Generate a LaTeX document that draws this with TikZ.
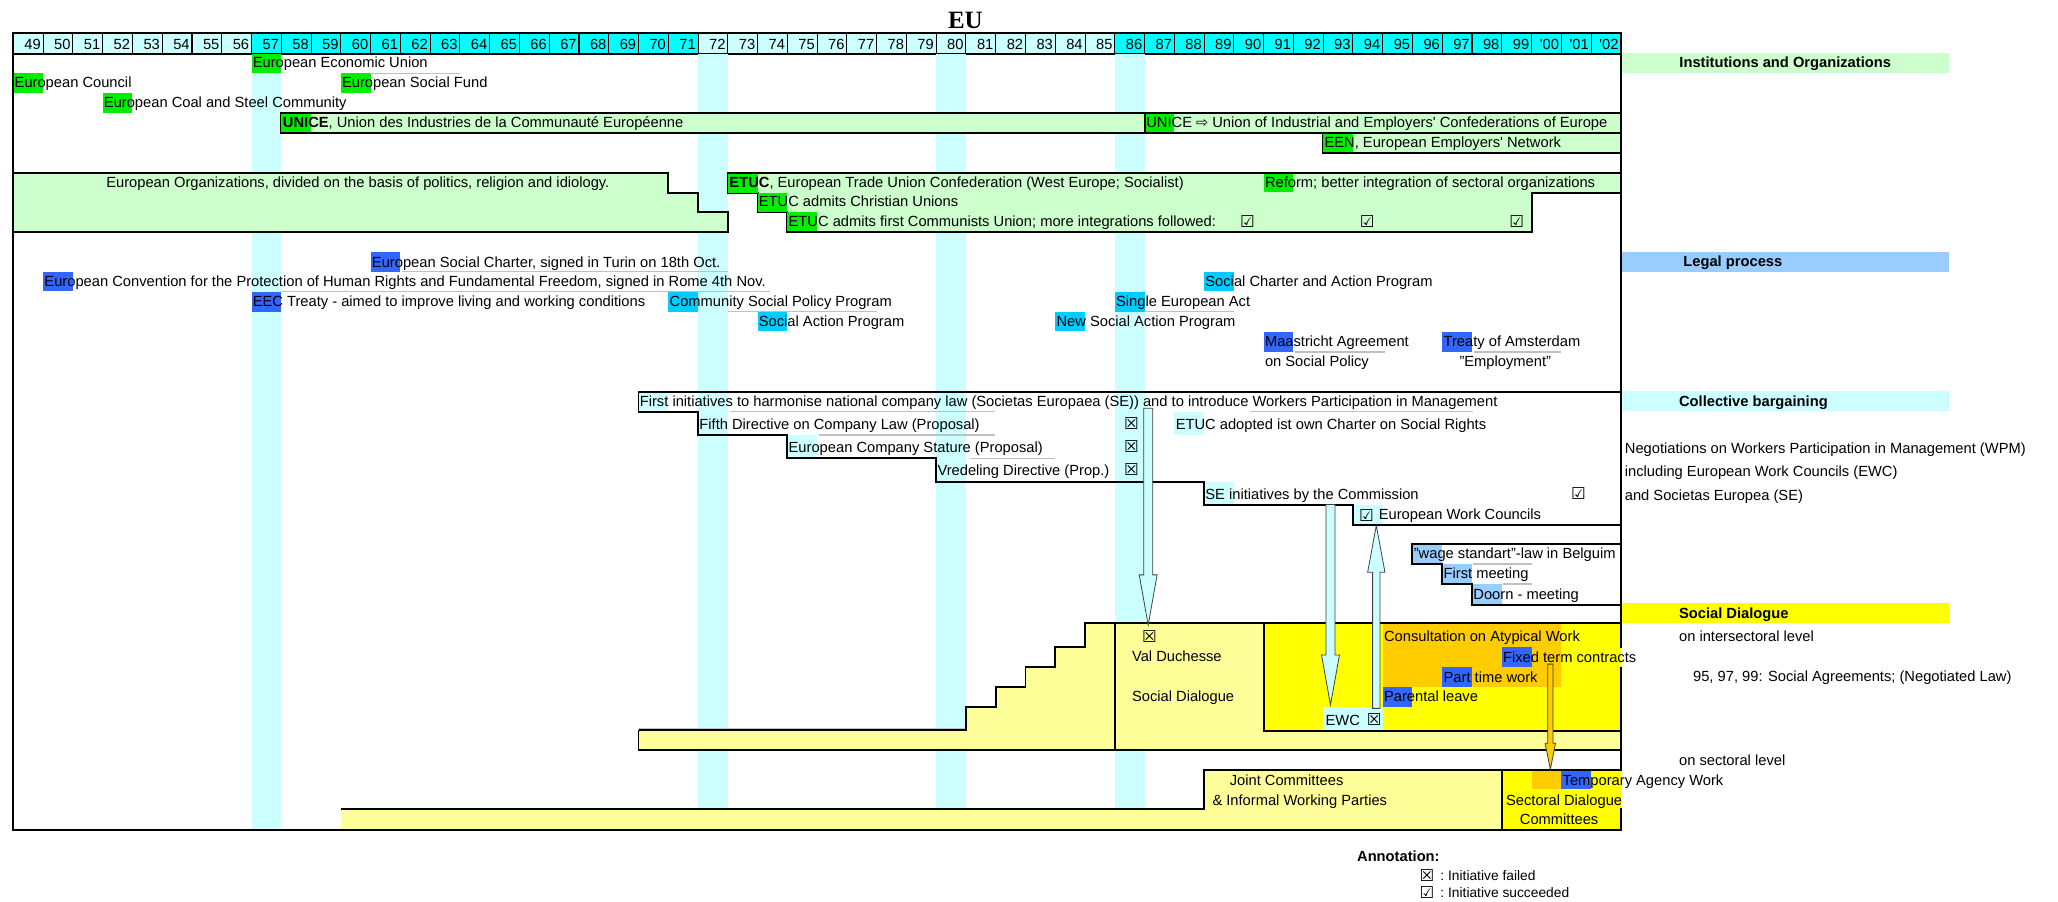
\documentclass[tikz,border=0pt]{standalone}
\usepackage{fontspec}
\setmainfont{Liberation Sans}
\newfontfamily\serifbf{Liberation Serif}
\newfontfamily\symf{DejaVu Sans}
\usetikzlibrary{calc}
\definecolor{lcyan}{HTML}{CCFFFF}
\definecolor{cyanh}{HTML}{00FFFF}
\definecolor{lgreen}{HTML}{CCFFCC}
\definecolor{hgreen}{HTML}{00EE00}
\definecolor{hblue}{HTML}{3366FF}
\definecolor{hsky}{HTML}{00CCFF}
\definecolor{lblue}{HTML}{99CCFF}
\definecolor{yel}{HTML}{FFFF00}
\definecolor{lyel}{HTML}{FFFF99}
\definecolor{orng}{HTML}{FFCC00}
\definecolor{lgray}{HTML}{C0C0C0}
\newcommand{\chfont}{\fontsize{11.2}{13.4}\selectfont}
\newcommand{\cbfail}{{\symf\fontsize{12.5}{12.5}\selectfont ☒}}
\newcommand{\cbok}{{\symf\fontsize{12.5}{12.5}\selectfont ☑}}
\newcommand{\HL}[4]{\fill[#4] (#1,#2) rectangle ({#1+22.68},#3);}
\newcommand{\darrow}[6]{\filldraw[fill=#6, draw=black!75, line width=0.6pt, line join=miter]
  ($(#1)+(-#3,0)$) -- ($(#2)+(-#3,-#5)$) -- ($(#2)+(-#4,-#5)$) -- (#2) -- ($(#2)+(#4,-#5)$) -- ($(#2)+(#3,-#5)$) -- ($(#1)+(#3,0)$) -- cycle;}
\newcommand{\uarrow}[6]{\filldraw[fill=#6, draw=black!75, line width=0.6pt, line join=miter]
  ($(#1)+(-#3,0)$) -- ($(#2)+(-#3,#5)$) -- ($(#2)+(-#4,#5)$) -- (#2) -- ($(#2)+(#4,#5)$) -- ($(#2)+(#3,#5)$) -- ($(#1)+(#3,0)$) -- cycle;}
\begin{document}
\begin{tikzpicture}[x=1pt,y=-1pt,
  txt/.style={anchor=base west, inner sep=0pt, outer sep=0pt, font=\chfont},
  ttl/.style={anchor=base west, inner sep=0pt, outer sep=0pt, font=\chfont\bfseries},
  yr/.style={anchor=base east, inner sep=0pt, outer sep=0pt, font=\chfont},
  box/.style={anchor=center, inner sep=0pt, outer sep=0pt},
  bline/.style={draw=black, line width=1.5pt, line join=miter},
  gline/.style={draw=lgray, line width=1pt}]
\useasboundingbox (0,0) rectangle (1568,686.5);
\fill[white] (0,0) rectangle (1568,686.5);

% title
\node[anchor=base, inner sep=0pt] (title) at (735.5,21.4) {\serifbf\bfseries\fontsize{19}{20}\selectfont EU};

% header cells
\foreach \i in {0,...,53} {
  \pgfmathsetmacro\xl{10.2+22.68*\i}
  \ifnum\i<8 \def\hc{lcyan}\else\ifnum\i<23 \def\hc{cyanh}\else\ifnum\i<37 \def\hc{lcyan}\else\def\hc{cyanh}\fi\fi\fi
  \filldraw[fill=\hc, draw=black, line width=0.8pt] (\xl,25.4) rectangle ++(22.68,15.7);
}
\foreach \lab [count=\i from 1] in {49,50,...,99}
  \node[yr] (y\lab) at ({10.2+22.68*\i-1.8},37.6) {\lab};
\node[yr] (y100) at ({10.2+22.68*52-1.8},37.6) {\textquotesingle00};
\node[yr] (y101) at ({10.2+22.68*53-1.8},37.6) {\textquotesingle01};
\node[yr] (y102) at ({10.2+22.68*54-1.8},37.6) {\textquotesingle02};
\draw[bline] (10.2,25.4) rectangle (1234.92,41.1);

% vertical bands
\foreach \bx in {191.64,531.84,713.28,849.36}
  \fill[lcyan] (\bx,41.1) rectangle ({\bx+22.68},632);

% right labels
\fill[lgreen] (1236,40.6) rectangle (1485,55.4);
\fill[lblue] (1236,192.2) rectangle (1485,207);
\fill[lcyan] (1236,298) rectangle (1485,313);
\fill[yel] (1236,459.7) rectangle (1485,475);

% ---------- Institutions fills
\filldraw[fill=lgreen, bline] (214.32,86.3) rectangle (1234.92,101.6);
\filldraw[fill=lgreen, bline] (1008.12,101.6) rectangle (1234.92,116.8);
\filldraw[fill=lgreen, bline] (10.2,132) -- (509.16,132) -- (509.16,146.8) -- (531.84,146.8) -- (531.84,161.3) -- (554.52,161.3) -- (554.52,176.8) -- (10.2,176.8) -- cycle;
\filldraw[fill=lgreen, bline] (554.52,132) -- (1234.92,132) -- (1234.92,146.8) -- (1166.88,146.8) -- (1166.88,176.8) -- (599.88,176.8) -- (599.88,161.3) -- (577.2,161.3) -- (577.2,146.8) -- (554.52,146.8) -- cycle;

% ---------- Social dialogue fills
\fill[lyel] (486.48,556.2) -- (735.96,556.2) -- (735.96,538.4) -- (758.64,538.4) -- (758.64,523.7) -- (781.32,523.7) -- (781.32,508.4) -- (804.0,508.4) -- (804.0,493.2) -- (826.68,493.2) -- (826.68,475) -- (1234.92,475) -- (1234.92,571.4) -- (486.48,571.4) -- cycle;
\fill[yel] (962.76,475) rectangle (1234.92,556.7);
\fill[orng] (1053.48,475) rectangle (1189.56,523.2);
\fill[lyel] (259.68,616.6) -- (917.4,616.6) -- (917.4,586.7) -- (1234.92,586.7) -- (1234.92,632) -- (259.68,632) -- cycle;
\fill[yel] (1144.2,586.7) rectangle (1234.92,632);

% ---------- highlights
\HL{191.64}{41.1}{55.4}{hgreen}
\HL{10.2}{55.4}{70.8}{hgreen}
\HL{259.68}{55.4}{70.8}{hgreen}
\HL{78.24}{70.8}{86.3}{hgreen}
\HL{214.32}{87}{100.9}{hgreen}
\HL{872.04}{87}{100.9}{hgreen}
\HL{1008.12}{102.3}{116.1}{hgreen}
\HL{554.52}{132.7}{146.8}{hgreen}
\HL{962.76}{132.7}{146.1}{hgreen}
\HL{577.2}{146.8}{161.3}{hgreen}
\HL{599.88}{161.3}{176.1}{hgreen}
\HL{282.36}{192.2}{207.5}{hblue}
\HL{32.88}{207.5}{222}{hblue}
\HL{191.64}{222.2}{237.5}{hblue}
\HL{509.16}{222.2}{237.5}{hsky}
\HL{577.2}{237.5}{252.5}{hsky}
\HL{917.4}{207.5}{222}{hsky}
\HL{849.36}{222.2}{237.5}{hsky}
\HL{804.0}{237.5}{252.5}{hsky}
\HL{962.76}{252.7}{268.3}{hblue}
\HL{1098.84}{252.7}{268.3}{hblue}
\HL{486.48}{298.4}{313.7}{lcyan}
\HL{531.84}{313.7}{331.4}{lcyan}
\HL{894.72}{313.7}{331.4}{lcyan}
\HL{599.88}{331.4}{349.2}{lcyan}
\HL{713.28}{349.2}{367}{lcyan}
\HL{917.4}{367}{384.8}{lcyan}
\HL{1030.8}{384.8}{400}{lcyan}
\HL{1076.16}{414.5}{429.7}{lblue}
\HL{1098.84}{429.7}{445}{lblue}
\HL{1121.52}{445}{461}{lblue}
\HL{1144.2}{493.2}{508.4}{hblue}
\HL{1098.84}{508.4}{523.7}{hblue}
\HL{1053.48}{523.7}{538.4}{hblue}
\fill[lcyan] (1008.12,538.6) rectangle (1053.48,556.2);
\HL{1166.88}{587.4}{601.4}{orng}
\HL{1189.56}{587.4}{601.4}{hblue}

% ---------- gray cell lines
\draw[gline] (282,55.9) -- (350.5,55.9);
\draw[gline] (306,207) -- (555,207);
\draw[gline] (214,222) -- (587,222);
\draw[gline] (555,237.5) -- (668,237.5);
\draw[gline] (873,237.5) -- (940,237.5);
\draw[gline] (987,268.3) -- (1055,268.3);
\draw[gline] (1123,268.3) -- (1189.5,268.3);
\draw[gline] (556,313.7) -- (758,313.7);
\draw[gline] (952,313.7) -- (1122,313.7);
\draw[gline] (623.8,331.4) -- (758,331.4);
\draw[gline] (739.4,349.2) -- (804,349.2);
\draw[gline] (1122,429.7) -- (1167.5,429.7);
\draw[gline] (1145,445) -- (1167.5,445);
\draw[gline] (486.48,555.4) -- (735.96,555.4);

% ---------- black structure lines
\draw[bline] (872.04,86.3) -- (872.04,101.6);
\draw[bline] (1234.92,298.4) -- (486.48,298.4) -- (486.48,313.7) -- (531.84,313.7) -- (531.84,331.4) -- (599.88,331.4) -- (599.88,349.2) -- (713.28,349.2) -- (713.28,367) -- (917.4,367) -- (917.4,384.8) -- (1030.8,384.8) -- (1030.8,400) -- (1234.92,400);
\draw[bline] (1234.92,414.5) -- (1076.16,414.5) -- (1076.16,429.7) -- (1098.84,429.7) -- (1098.84,445) -- (1121.52,445) -- (1121.52,461) -- (1234.92,461);
\draw[bline] (486.48,556.2) -- (735.96,556.2) -- (735.96,538.4) -- (758.64,538.4) -- (758.64,523.7) -- (781.32,523.7) -- (781.32,508.4) -- (804.0,508.4) -- (804.0,493.2) -- (826.68,493.2) -- (826.68,475) -- (1234.92,475);
\draw[bline] (486.48,556.2) -- (486.48,571.4) -- (1234.92,571.4);
\draw[bline] (849.36,475) -- (849.36,571.4);
\draw[bline] (962.76,475) -- (962.76,556.7) -- (1234.92,556.7);
\draw[bline] (259.68,616.6) -- (917.4,616.6) -- (917.4,586.7) -- (1234.92,586.7);
\draw[bline] (1144.2,586.7) -- (1144.2,632);
\draw[bline] (10.2,41.1) -- (10.2,632) -- (1234.92,632) -- (1234.92,41.1);
% breaks of the right border where text overflows
\fill[yel] (1234.1,493.6) rectangle (1234.92,508);
\fill[white] (1234.92,493.6) rectangle (1236.2,508);
\fill[yel] (1234.1,587.5) rectangle (1234.92,615.8);
\fill[white] (1234.92,587.5) rectangle (1236.2,615.8);

% ---------- texts: Institutions and Organizations
\node[txt] (eeu) at (192.6,51.6) {European Economic Union};
\node[txt] (ec) at (11.2,66.6) {European Council};
\node[txt] (esf) at (260.6,66.6) {European Social Fund};
\node[txt] (ecsc) at (79.2,82.1) {European Coal and Steel Community};
\node[txt] (unice1) at (215.6,97.4) {\textbf{UNICE}, Union des Industries de la Communauté Européenne};
\node[txt] (unice2) at (873.4,97.4) {UNICE {\symf\fontsize{11}{11}\selectfont ⇨} Union of Industrial and Employers\textquotesingle\ Confederations of Europe};
\node[txt] (een) at (1009.2,112.6) {EEN, European Employers\textquotesingle\ Network};
\node[txt] (eorg) at (81,142.8) {European Organizations, divided on the basis of politics, religion and idiology.};
\node[txt] (etuc1) at (555.8,142.8) {\textbf{ETUC}, European Trade Union Confederation (West Europe; Socialist)};
\node[txt] (reform) at (963.8,142.8) {Reform; better integration of sectoral organizations};
\node[txt] (etuc2) at (578.2,157.3) {ETUC admits Christian Unions};
\node[txt] (etuc3) at (600.9,172.6) {ETUC admits first Communists Union; more integrations followed:};
\node[box] (ok1) at (950.5,168.8) {\cbok};
\node[box] (ok2) at (1041.7,168.8) {\cbok};
\node[box] (ok3) at (1155.6,168.8) {\cbok};
\node[ttl] (linst) at (1279.6,51.6) {Institutions and Organizations};

% ---------- Legal process
\node[ttl] (llegal) at (1282.6,203.3) {Legal process};
\node[txt] (esc) at (283.4,203.5) {European Social Charter, signed in Turin on 18th Oct.};
\node[txt] (echr) at (33.9,218.2) {European Convention for the Protection of Human Rights and Fundamental Freedom, signed in Rome 4th Nov.};
\node[txt] (eec) at (192.6,233.5) {EEC Treaty - aimed to improve living and working conditions};
\node[txt] (cspp) at (510.2,233.5) {Community Social Policy Program};
\node[txt] (sap) at (578.2,248.5) {Social Action Program};
\node[txt] (scap) at (918.4,218.2) {Social Charter and Action Program};
\node[txt] (sea) at (850.4,233.5) {Single European Act};
\node[txt] (nsap) at (805,248.5) {New Social Action Program};
\node[txt] (maas) at (963.8,264.3) {Maastricht Agreement};
\node[txt] (maas2) at (963.8,279.5) {on Social Policy};
\node[txt] (ams) at (1099.9,264.3) {Treaty of Amsterdam};
\node[txt] (ams2) at (1112,279.5) {"Employment"};

% ---------- Collective bargaining
\node[ttl] (lcoll) at (1279.3,309.4) {Collective bargaining};
\node[txt] (first) at (487.5,309.7) {First initiatives to harmonise national company law (Societas Europaea (SE)) and to introduce Workers Participation in Management};
\node[txt] (fifth) at (532.9,327) {Fifth Directive on Company Law (Proposal)};
\node[box] (f1) at (862,322.6) {\cbfail};
\node[txt] (etucch) at (895.8,327) {ETUC adopted ist own Charter on Social Rights};
\node[txt] (ecs) at (600.9,344.7) {European Company Stature (Proposal)};
\node[box] (f2) at (862,340.3) {\cbfail};
\node[txt] (vred) at (714.3,362.4) {Vredeling Directive (Prop.)};
\node[box] (f3) at (862,358.1) {\cbfail};
\node[txt] (sei) at (918.4,380.2) {SE initiatives by the Commission};
\node[box] (ok4) at (1202.7,375.9) {\cbok};
\node[box] (ok5) at (1041.2,392.6) {\cbok};
\node[txt] (ewc1) at (1050.5,395.6) {European Work Councils};
\node[txt] (neg1) at (1238,345.6) {Negotiations on Workers Participation in Management (WPM)};
\node[txt] (neg2) at (1238,362.8) {including European Work Councils (EWC)};
\node[txt] (neg3) at (1238,381) {and Societas Europea (SE)};
\node[txt] (wage) at (1077.2,425.6) {"wage standart"-law in Belguim};
\node[txt] (fmeet) at (1099.9,441) {First meeting};
\node[txt] (doorn) at (1122.6,456.6) {Doorn - meeting};

% ---------- Social Dialogue
\node[ttl] (lsd) at (1279.3,471) {Social Dialogue};
\node[txt] (inter) at (1279.3,489) {on intersectoral level};
\node[txt] (agree) at (1290,519.6) {95, 97, 99: Social Agreements; (Negotiated Law)};
\node[txt] (sect) at (1279.3,583) {on sectoral level};
\node[box] (vdx) at (875.8,485.3) {\cbfail};
\node[txt] (vd1) at (862.5,504.3) {Val Duchesse};
\node[txt] (vd2) at (862.5,534.8) {Social Dialogue};
\node[txt] (cons) at (1054.5,489) {Consultation on Atypical Work};
\node[txt] (fixed) at (1145.2,504.4) {Fixed term contracts};
\node[txt] (part) at (1099.9,519.7) {Part time work};
\node[txt] (paren) at (1054.5,534.4) {Parental leave};
\node[txt] (ewc2) at (1010,552.6) {EWC};
\node[box] (ewcx) at (1047,548.4) {\cbfail};
\node[txt] (joint1) at (937,598.3) {Joint Committees};
\node[txt] (joint2) at (923.8,613.5) {\& Informal Working Parties};
\node[txt] (tempw) at (1190.6,598.3) {Temporary Agency Work};
\node[txt] (sdc1) at (1147.5,613.5) {Sectoral Dialogue};
\node[txt] (sdc2) at (1158,628) {Committees};

% ---------- annotation
\node[ttl] (annot) at (1034,656.7) {Annotation:};
\node[box] (af) at (1087.3,666.7) {\cbfail};
\node[txt, font=\fontsize{10.5}{12}\selectfont] (aft) at (1097.5,670.6) {:\ Initiative failed};
\node[box] (as) at (1087.3,680) {\cbok};
\node[txt, font=\fontsize{10.5}{12}\selectfont] (ast) at (1097.5,684) {:\ Initiative succeeded};

% ---------- arrows
\coordinate (a1s) at (874.8,311);
\coordinate (a1e) at (874.8,476.2);
\darrow{a1s}{a1e}{3.4}{6.8}{38.2}{lcyan}
\coordinate (a2s) at (1013.7,384.4);
\coordinate (a2e) at (1013.7,537);
\darrow{a2s}{a2e}{3.45}{6.85}{38}{lcyan}
\coordinate (a3s) at (1048.6,539.7);
\coordinate (a3e) at (1048.6,400.4);
\uarrow{a3s}{a3e}{2.8}{6.6}{35.6}{lcyan}
\coordinate (a4s) at (1181.2,506);
\coordinate (a4e) at (1181.2,586.2);
\darrow{a4s}{a4e}{1.95}{3.95}{19.9}{orng}
\end{tikzpicture}
\end{document}
